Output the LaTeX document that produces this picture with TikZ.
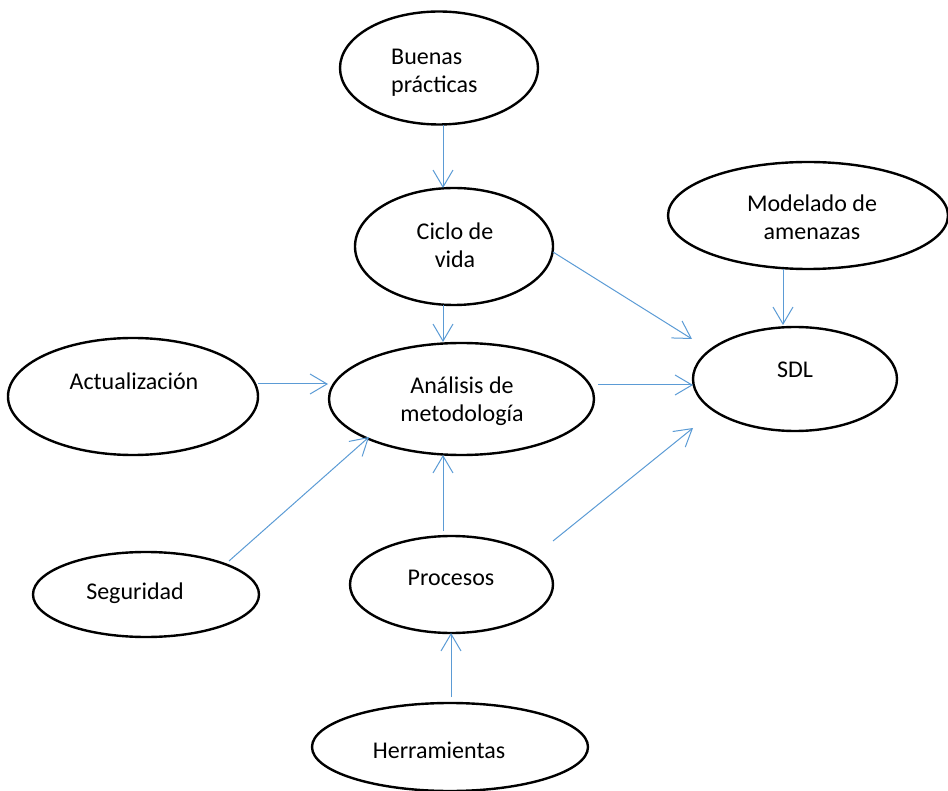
\documentclass[tikz,border=0pt]{standalone}
\usepackage{fontspec}
\setmainfont{Carlito}
\usetikzlibrary{arrows.meta,calc,shapes.geometric}
\definecolor{arrowblue}{HTML}{5B9BD5}
\begin{document}
\begin{tikzpicture}[x=1pt,y=-1pt,
  oval/.style={draw=black,line width=2.4pt,ellipse,inner sep=0pt},
  lbl/.style={font=\fontsize{24}{28.5}\selectfont,inner sep=0pt,align=center},
  arr/.style={draw=arrowblue,line width=1pt,-{Straight Barb[length=17pt,width=20pt]}}]
\useasboundingbox (0,0) rectangle (948,791);

% concept ellipses
\node[oval,minimum width=198pt,minimum height=113pt] (b)  at (439,68)    {};
\node[oval,minimum width=198pt,minimum height=117pt] (c)  at (454,246.5) {};
\node[oval,minimum width=280pt,minimum height=107pt] (m)  at (808,215.5) {};
\node[oval,minimum width=204pt,minimum height=104pt] (s)  at (795,379)   {};
\node[oval,minimum width=250pt,minimum height=117pt] (ac) at (133,396.5) {};
\node[oval,minimum width=265pt,minimum height=112pt] (an) at (461.5,399) {};
\node[oval,minimum width=226pt,minimum height=85pt]  (sg) at (146,594.5) {};
\node[oval,minimum width=203pt,minimum height=97pt]  (p)  at (451.5,584.5) {};
\node[oval,minimum width=276pt,minimum height=88pt]  (h)  at (450,747)   {};

% labels (base = baseline of the last line)
\node[lbl,align=left,anchor=base west] (bt) at (391,93) {Buenas\\prácticas};
\node[lbl,anchor=base] (ct)  at (455,268) {Ciclo de\\vida};
\node[lbl,anchor=base] (mt)  at (812,240) {Modelado de\\amenazas};
\node[lbl,anchor=base] (st)  at (795,378) {SDL};
\node[lbl,anchor=base] (act) at (134,390) {Actualización};
\node[lbl,anchor=base] (ant) at (462,422) {Análisis de\\metodología};
\node[lbl,anchor=base] (sgt) at (135,599) {Seguridad};
\node[lbl,anchor=base] (pt)  at (451,585) {Procesos};
\node[lbl,anchor=base] (ht)  at (439,758) {Herramientas};

% connectors
\draw[arr] ($(b)+(4,57)$)         -- ($(c)+(-11,-58.5)$);
\draw[arr] ($(c)+(-11,58.5)$)     -- ($(an)+(-18.5,-57)$);
\draw[arr] ($(c)+(99,5.5)$)       -- ($(s)+(-103,-40)$);
\draw[arr] ($(m)+(-25,53.5)$)     -- ($(s)+(-12,-54)$);
\draw[arr] ($(ac)+(125,-12.5)$)   -- ($(an)+(-133.5,-15)$);
\draw[arr] ($(an)+(136.5,-14)$)   -- ($(s)+(-102,6)$);
\draw[arr] ($(sg)+(83,-33.5)$)    -- ($(an)+(-92.5,38)$);
\draw[arr] ($(p)+(-8.5,-53.5)$)   -- ($(an)+(-18.5,56)$);
\draw[arr] ($(p)+(101.5,-43.5)$)  -- ($(s)+(-102,49)$);
\draw[arr] ($(h)+(1,-50)$)        -- ($(p)+(-0.5,48.5)$);
\end{tikzpicture}
\end{document}
